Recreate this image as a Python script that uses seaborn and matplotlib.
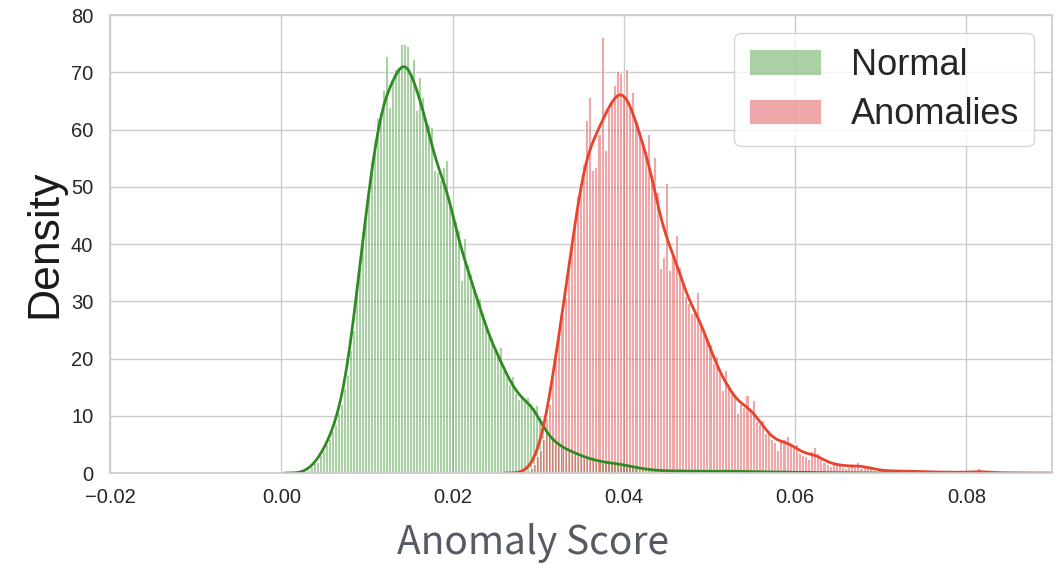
import numpy as np
import pandas as pd
import matplotlib
matplotlib.use("Agg")
import matplotlib.pyplot as plt
import seaborn as sns

# ---------------- data ----------------
series_labels = ["Normal", "Anomalies"]

normal_bin_start = 0.0030
normal_bin_width = 0.00035
normal_density = [
    0.5, 1.0, 1.7, 2.0, 3.2, 3.8, 5.1, 6.0, 7.4, 8.5,
    10.4, 12.0, 14.8, 17.2, 21.5, 25.0, 33.0, 36.5, 41.0, 44.0,
    50.0, 54.5, 58.0, 62.0, 62.8, 66.9, 72.8, 64.0, 68.5, 70.5,
    71.0, 75.0, 75.0, 74.5, 70.0, 72.4, 63.4, 69.2, 65.7, 62.0,
    61.0, 60.5, 53.0, 52.5, 51.2, 53.5, 54.7, 47.5, 45.5, 44.0,
    42.5, 33.7, 41.0, 36.5, 34.8, 32.0, 31.0, 30.5, 28.0, 25.5,
    24.0, 23.5, 21.5, 20.5, 22.0, 18.0, 17.0, 15.5, 17.0, 14.0,
    13.0, 13.2, 12.5, 13.3, 12.3, 11.5, 11.8, 9.8, 7.5, 7.2,
    6.5, 6.2, 5.0, 5.5, 4.6, 4.2, 4.6, 3.8, 3.5, 3.9,
    3.0, 3.2, 2.6, 2.9, 2.4, 2.5, 2.0, 2.2, 1.8, 2.0,
    1.7, 1.9, 1.6, 1.8, 1.5, 1.6, 1.3, 1.2, 1.1, 1.0,
    0.9, 0.8, 0.8, 0.6, 0.6, 0.5, 0.5, 0.4, 0.4, 0.45,
    0.35, 0.4, 0.3, 0.4, 0.35, 0.3, 0.4, 0.3, 0.35, 0.3,
    0.3, 0.35, 0.25, 0.3, 0.35, 0.3, 0.3, 0.25, 0.35, 0.4,
    0.3, 0.35, 0.3, 0.25, 0.3, 0.3, 0.2, 0.25, 0.3, 0.2,
    0.25, 0.2, 0.2, 0.25, 0.15, 0.2, 0.2, 0.15, 0.15, 0.2,
    0.1, 0.15, 0.15, 0.1, 0.1, 0.15, 0.1, 0.1, 0.05, 0.1,
    0.1, 0.05, 0.05, 0.1, 0.05, 0.05, 0.05, 0.0, 0.05, 0.05,
    0.0, 0.05, 0.0, 0.05, 0.0, 0.0, 0.05, 0.0, 0.0, 0.03,
]

anomaly_bin_start = 0.0290
anomaly_bin_width = 0.00036
anomaly_density = [
    0.8, 1.5, 3.0, 4.0, 6.0, 9.6, 12.0, 17.0, 21.0, 25.0,
    27.5, 30.8, 36.0, 40.0, 43.0, 48.3, 50.0, 54.0, 61.6, 65.7,
    52.9, 53.5, 59.3, 76.2, 56.4, 63.4, 65.0, 67.7, 70.3, 69.8,
    66.0, 70.6, 64.0, 66.6, 61.5, 60.0, 57.0, 56.0, 59.3, 52.0,
    55.2, 49.0, 35.8, 37.8, 50.6, 35.5, 38.0, 41.6, 36.0, 33.0,
    31.0, 29.7, 27.9, 28.5, 31.7, 26.0, 25.0, 23.8, 22.5, 19.2,
    20.5, 17.5, 14.5, 18.0, 15.5, 14.0, 13.5, 10.5, 12.0, 11.5,
    13.7, 11.0, 12.8, 9.0, 8.5, 9.2, 7.0, 7.5, 6.0, 5.5,
    4.1, 5.8, 6.0, 6.4, 5.2, 4.5, 5.0, 3.5, 3.2, 3.0,
    2.5, 3.8, 4.5, 3.5, 2.5, 2.0, 1.5, 1.2, 1.5, 2.0,
    1.8, 1.0, 0.8, 1.0, 1.5, 1.2, 1.9, 0.9, 1.0, 1.3,
    1.2, 0.6, 0.4, 0.5, 0.3, 0.4, 0.3, 0.5, 0.3, 0.4,
    0.3, 0.4, 0.2, 0.3, 0.5, 0.2, 0.3, 0.2, 0.2, 0.3,
    0.2, 0.1, 0.2, 0.2, 0.1, 0.2, 0.1, 0.1, 0.2, 0.1,
    0.1, 0.1, 0.1, 0.1, 0.2, 0.8, 0.3, 0.1, 0.1, 0.05,
    0.1, 0.05, 0.05, 0.05, 0.05, 0.03, 0.03, 0.0, 0.03, 0.0,
    0.03, 0.0, 0.0, 0.03, 0.0, 0.02,
]

x_ticks = [-0.02, 0.00, 0.02, 0.04, 0.06, 0.08]
y_ticks = [0, 10, 20, 30, 40, 50, 60, 70, 80]
x_label = "Anomaly Score"
y_label = "Density"

# ---------------- style ----------------
sns.set_theme(style="whitegrid")
plt.rcParams["font.family"] = ["Liberation Sans", "DejaVu Sans"]

normal_bar = "#2e8b22"
normal_line = "#2e8b22"
anomaly_bar = "#d62728"
anomaly_line = "#e8432b"


def binned(start, width, dens):
    edges = start + width * np.arange(len(dens) + 1)
    centers = edges[:-1] + width / 2
    return pd.DataFrame({"score": centers, "density": dens}), [float(e) for e in edges]


normal_df, normal_edges = binned(normal_bin_start, normal_bin_width, normal_density)
anomaly_df, anomaly_edges = binned(anomaly_bin_start, anomaly_bin_width, anomaly_density)

fig, ax = plt.subplots(figsize=(10.56, 5.64), dpi=100)
fig.subplots_adjust(left=0.1042, right=0.9962, top=0.9734, bottom=0.1613)

sns.histplot(data=normal_df, x="score", weights="density", bins=normal_edges,
             stat="count", color=normal_bar, alpha=0.4, edgecolor="white",
             linewidth=0.6, label=series_labels[0], ax=ax)
sns.histplot(data=anomaly_df, x="score", weights="density", bins=anomaly_edges,
             stat="count", color=anomaly_bar, alpha=0.4, edgecolor="white",
             linewidth=0.6, label=series_labels[1], ax=ax)

sns.kdeplot(data=normal_df, x="score", weights="density", bw_method=0.13,
            cut=1.1, color=normal_line, linewidth=2.0, ax=ax)
sns.kdeplot(data=anomaly_df, x="score", weights="density", bw_method=0.14,
            cut=1.3, color=anomaly_line, linewidth=2.0, ax=ax)

ax.set_xlim(-0.02, 0.09)
ax.set_ylim(0, 80)
ax.set_xticks(x_ticks)
ax.set_yticks(y_ticks)
ax.tick_params(axis="both", labelsize=14.5, colors="#262626")
ax.tick_params(axis="x", pad=5)
ax.tick_params(axis="y", pad=6)

ax.set_ylabel(y_label, fontsize=32, labelpad=4, color="#1a1a1a")
ax.set_xlabel(x_label, fontsize=28, labelpad=11, color="#555a64",
              family=["Noto Sans CJK KR", "DejaVu Sans"])
ax.xaxis.label.set_x(0.449)

for s in ax.spines.values():
    s.set_color("#cccccc")

leg = ax.legend(loc="upper right", fontsize=26, handlelength=2.0,
                handletextpad=0.83, borderaxespad=0.5, labelspacing=0.4,
                frameon=True, fancybox=True, edgecolor="#cccccc")

fig.savefig("out.png", dpi=100)
